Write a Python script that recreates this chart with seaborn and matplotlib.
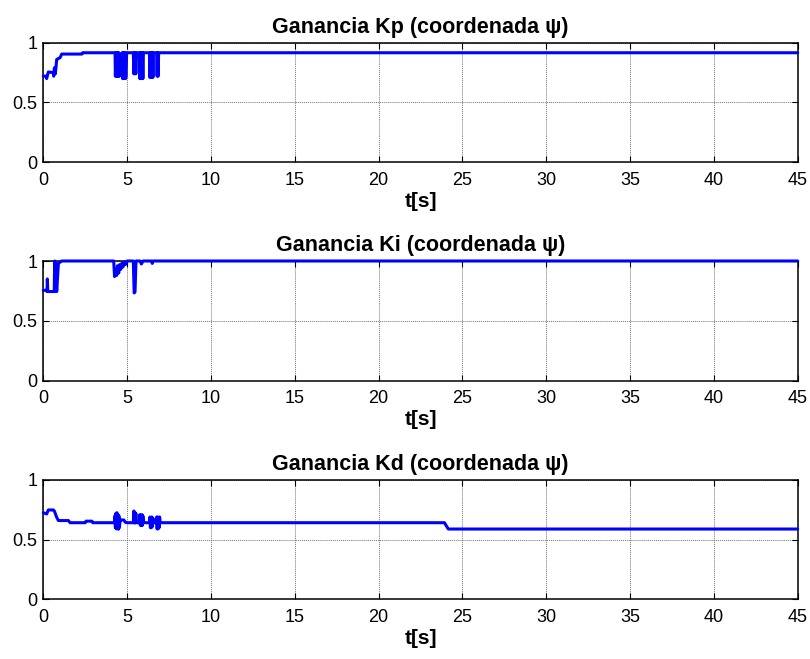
import matplotlib
matplotlib.use("Agg")
import matplotlib.pyplot as plt
import seaborn as sns
import pandas as pd

# ---- data (time in s, gain value) ----
kp_t = [0, 0.16, 0.2, 0.3, 0.6, 0.62, 0.66, 0.72, 0.8, 1.0, 1.1, 2.3, 2.35,
        4.28, 4.30, 4.33, 4.36, 4.39, 4.42, 4.45, 4.48, 4.51, 4.54, 4.57,
        4.62, 4.66, 4.70, 4.73, 4.76, 4.79, 4.82, 4.85, 4.88, 4.91, 4.94, 4.97,
        5.37, 5.40, 5.43, 5.46, 5.49, 5.52, 5.56,
        5.73, 5.76, 5.79, 5.82, 5.85, 5.88, 5.91, 5.94, 5.97,
        6.33, 6.36, 6.39, 6.42, 6.45, 6.48, 6.51, 6.54, 6.57,
        6.76, 6.79, 6.82, 6.85, 6.88, 6.92, 45]
kp_v = [0.72, 0.72, 0.70, 0.755, 0.75, 0.72, 0.79, 0.74, 0.86, 0.875, 0.905, 0.905, 0.916,
        0.916, 0.72, 0.916, 0.72, 0.916, 0.72, 0.916, 0.72, 0.916, 0.72, 0.74,
        0.73, 0.74, 0.916, 0.70, 0.916, 0.70, 0.916, 0.71, 0.916, 0.70, 0.72, 0.916,
        0.916, 0.74, 0.916, 0.74, 0.916, 0.74, 0.916,
        0.916, 0.70, 0.916, 0.70, 0.916, 0.70, 0.916, 0.70, 0.916,
        0.916, 0.71, 0.916, 0.71, 0.916, 0.71, 0.916, 0.71, 0.916,
        0.916, 0.72, 0.916, 0.72, 0.916, 0.916, 0.916]

ki_t = [0, 0.16, 0.22, 0.24, 0.27, 0.3, 0.65, 0.68, 0.72, 0.75, 0.8, 0.9, 1.1,
        4.2, 4.25, 4.32, 4.38, 4.42, 4.5, 4.55, 4.62, 4.68, 4.75, 4.82, 4.9, 5.0,
        5.37, 5.42, 5.47, 5.53, 5.77, 5.85, 5.95, 6.45, 6.5, 6.55, 45]
ki_v = [0.755, 0.755, 0.745, 0.85, 0.745, 0.745, 0.745, 1.0, 0.745, 0.98, 0.745, 0.98, 1.0,
        1.0, 0.87, 0.93, 0.88, 0.96, 0.90, 0.97, 0.93, 0.98, 0.95, 0.99, 0.97, 1.0,
        1.0, 0.733, 0.74, 1.0, 1.0, 0.975, 1.0, 1.0, 0.98, 1.0, 1.0]

kd_t = [0, 0.2, 0.3, 0.6, 0.66, 0.8, 0.9, 1.5, 1.6, 2.5, 2.55, 2.9, 2.95,
        4.24, 4.27, 4.30, 4.33, 4.36, 4.39, 4.42, 4.45, 4.48, 4.51, 4.54, 4.58,
        4.65, 4.8, 4.9, 5.0,
        5.37, 5.40, 5.43, 5.46, 5.49, 5.52, 5.56,
        5.73, 5.76, 5.79, 5.82, 5.85, 5.88, 5.91, 5.94, 5.98,
        6.33, 6.36, 6.39, 6.42, 6.45, 6.48, 6.51, 6.54, 6.58,
        6.73, 6.76, 6.79, 6.82, 6.85, 6.88, 6.91, 6.94, 6.97,
        23.93, 24.16, 45]
kd_v = [0.726, 0.715, 0.749, 0.749, 0.74, 0.687, 0.66, 0.66, 0.642, 0.642, 0.655, 0.655, 0.642,
        0.642, 0.70, 0.60, 0.72, 0.59, 0.726, 0.60, 0.71, 0.587, 0.70, 0.60, 0.66,
        0.665, 0.665, 0.645, 0.642,
        0.642, 0.74, 0.64, 0.73, 0.64, 0.72, 0.642,
        0.642, 0.71, 0.62, 0.70, 0.62, 0.71, 0.62, 0.70, 0.642,
        0.642, 0.69, 0.60, 0.68, 0.60, 0.69, 0.61, 0.68, 0.642,
        0.642, 0.69, 0.59, 0.69, 0.59, 0.68, 0.60, 0.69, 0.642,
        0.642, 0.589, 0.589]

titles = ["Ganancia Kp (coordenada ψ)", "Ganancia Ki (coordenada ψ)", "Ganancia Kd (coordenada ψ)"]
xlabel = "t[s]"
xticks = [0, 5, 10, 15, 20, 25, 30, 35, 40, 45]
yticks = [0, 0.5, 1]
ytick_labels = ["0", "0.5", "1"]

sns.set_theme(style="white")
plt.rcParams["font.family"] = ["Liberation Sans", "DejaVu Sans"]
plt.rcParams["text.color"] = "black"
plt.rcParams["axes.labelcolor"] = "black"

fig = plt.figure(figsize=(8.10, 6.59), dpi=100)
W, H = 810.0, 659.0
boxes = [(43.3, 42.7, 797.7, 162.3), (43.3, 261.0, 797.7, 380.7), (43.3, 480.0, 797.7, 599.3)]
series = [(kp_t, kp_v), (ki_t, ki_v), (kd_t, kd_v)]

for (l, t, r, b), (tt, vv), title in zip(boxes, series, titles):
    ax = fig.add_axes([l / W, 1 - b / H, (r - l) / W, (b - t) / H])
    df = pd.DataFrame({"t": tt, "v": vv})
    sns.lineplot(data=df, x="t", y="v", ax=ax, estimator=None, sort=False,
                 color=(0, 0, 1), linewidth=2.2, clip_on=False, zorder=5)
    ax.set_xlim(0, 45)
    ax.set_ylim(0, 1)
    ax.set_xticks(xticks)
    ax.set_yticks(yticks)
    ax.set_yticklabels(ytick_labels)
    ax.grid(True, color="0.45", linestyle=(0, (1, 1)), linewidth=0.7)
    ax.tick_params(direction="in", length=4, width=0.8, top=True, right=True,
                   bottom=True, left=True, labelsize=13, colors="black")
    ax.tick_params(axis="x", pad=7)
    ax.tick_params(axis="y", pad=4)
    for s in ax.spines.values():
        s.set_color("black")
        s.set_linewidth(1.1)
    ax.set_ylabel("")
    ax.set_xlabel(xlabel, fontsize=15, fontweight="bold", labelpad=2, color="black")
    ax.set_title(title, fontsize=15.5, fontweight="bold", pad=7, color="black")

fig.savefig("out.png", dpi=100, facecolor="white")
